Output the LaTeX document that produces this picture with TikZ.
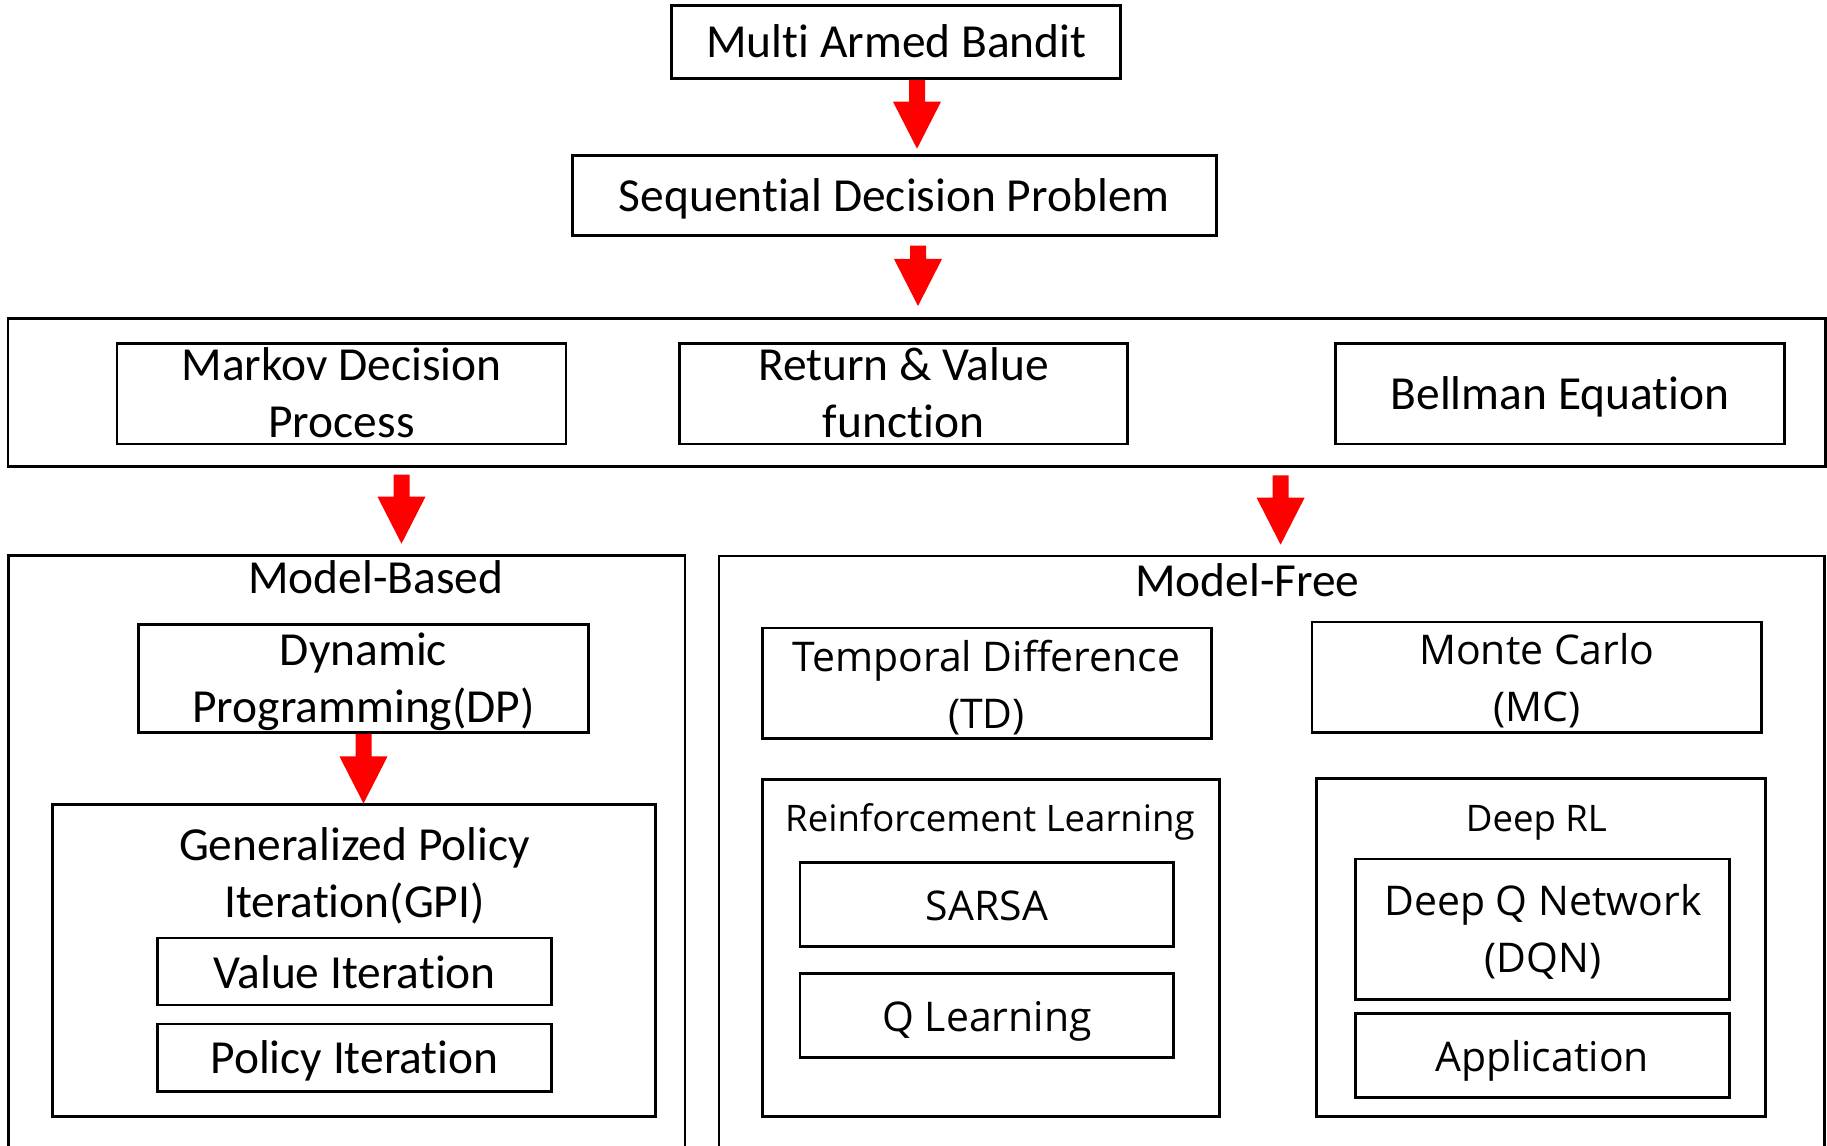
\documentclass[tikz,border=0pt]{standalone}
\usepackage{fontspec}
\usetikzlibrary{calc,fit}
\newfontfamily\calib[RawFeature=-liga,RawFeature=-clig,RawFeature=-calt,RawFeature=-dlig,RawFeature=-ccmp]{Carlito}
\newfontfamily\osans{Open Sans}
\definecolor{arrowred}{RGB}{255,0,0}
% two centred lines whose baseline is the baseline of the first line
\newcommand\twolines[2]{\begin{tabular}[t]{@{}c@{}}#1\\#2\end{tabular}}
% thick red block arrow from shaft top #1 to tip #2
\newcommand\blockarrow[2]{%
  \fill[arrowred] ($(#1)+(-8,0)$) -- ($(#1)+(8,0)$) -- ($(#2)+(8,-47)$)
    -- ($(#2)+(24,-47)$) -- (#2) -- ($(#2)+(-24,-47)$) -- ($(#2)+(-8,-47)$) -- cycle;}

\begin{document}
\begin{tikzpicture}[x=0.02cm,y=-0.02cm,
  box/.style={draw=black,line width=1.5pt,inner sep=0pt,rectangle},
  lbl/.style={inner sep=0pt,anchor=base,font=\calib\fontsize{27}{32.4}\selectfont},
  lblos/.style={inner sep=0pt,anchor=base,font=\osans\fontsize{23.3}{32.6}\selectfont},
  lblsm/.style={inner sep=0pt,anchor=base,font=\osans\fontsize{20.8}{25}\selectfont}]

\useasboundingbox (0,0) rectangle (1827,1146);
\fill[white] (0,0) rectangle (1827,1146);
\clip (0,0) rectangle (1827,1146);

% top chain
\node[box,fit={(671.6,5.7) (1120.7,78.7)}] (mab) {};
\node[box,fit={(572.5,155.7) (1216.7,235.3)}] (sdp) {};

% foundations
\node[box,fit={(8,318.3) (1825.5,466.7)}] (big) {};
\node[box,fit={(117,343.3) (566,444)}] (mdp) {};
\node[box,fit={(679.5,343.3) (1127.5,444)}] (rv) {};
\node[box,fit={(1335.5,343.3) (1784.8,444)}] (bell) {};

% model-based branch
\node[box,fit={(8.3,555.5) (685,1170)}] (mb) {};
\node[box,fit={(138.7,624.3) (588.2,732.5)}] (dp) {};
\node[box,fit={(52.8,804.8) (655.6,1116.7)}] (gpi) {};
\node[box,fit={(157.5,938.1) (551.4,1005)}] (vi) {};
\node[box,fit={(157.5,1024) (551.4,1091.6)}] (pi) {};

% model-free branch
\node[box,fit={(719.1,556) (1824.5,1170)}] (mf) {};
\node[box,fit={(762.4,628.1) (1211.7,738.7)}] (td) {};
\node[box,fit={(1312.1,622) (1761.4,732.5)}] (mc) {};
\node[box,fit={(762.4,779.7) (1219.7,1116.7)}] (rl) {};
\node[box,fit={(799.9,862.8) (1173.8,946.7)}] (sarsa) {};
\node[box,fit={(799.9,973.7) (1173.8,1057.2)}] (ql) {};
\node[box,fit={(1316.3,778.5) (1765.3,1116.7)}] (drl) {};
\node[box,fit={(1355.7,858.9) (1729.3,999.2)}] (dqn) {};
\node[box,fit={(1355.7,1013.5) (1729.3,1097.4)}] (app) {};

% labels
\node[lbl] (mabT) at (896.5,57.3) {Multi Armed Bandit};
\node[lbl] (sdpT) at (894.3,211.7) {Sequential Decision Problem};
\node[lbl] (mdpT) at (341.5,380.7) {\twolines{Markov Decision}{Process}};
\node[lbl] (rvT) at (903.5,380.7) {\twolines{Return \& Value}{function}};
\node[lbl] (bellT) at (1560,409.3) {Bellman Equation};
\node[lbl] (mbT) at (375.9,593.3) {Model-Based};
\node[lbl] (mfT) at (1247.4,596.7) {Model-Free};
\node[lbl] (dpT) at (363.5,665.6) {\twolines{Dynamic}{Programming(DP)}};
\node[lbl] (gpiT) at (354.5,860.8) {\twolines{Generalized Policy}{Iteration(GPI)}};
\node[lbl] (viT) at (354.5,988.4) {Value Iteration};
\node[lbl] (piT) at (354.5,1073.4) {Policy Iteration};
\node[lblos] (tdT) at (986.5,671.4) {\twolines{Temporal Difference}{(TD)}};
\node[lblos] (mcT) at (1536.8,664.5) {\twolines{Monte Carlo}{(MC)}};
\node[lblsm] (rlT) at (989.9,831.8) {Reinforcement Learning};
\node[lblos] (sarsaT) at (987,920.8) {SARSA};
\node[lblos] (qlT) at (987,1031.7) {Q Learning};
\node[lblsm] (drlT) at (1536.4,831.8) {Deep RL};
\node[lblos] (dqnT) at (1543,915) {\twolines{Deep Q Network}{(DQN)}};
\node[lblos] (appT) at (1542,1071.5) {Application};

% arrow columns
\coordinate (ax1) at (917,0);
\coordinate (ax2) at (918,0);
\coordinate (ax3) at (401.5,0);
\coordinate (ax4) at (1280.6,0);
\coordinate (ax5) at (363.5,0);

% arrow ends
\coordinate (a1s) at (mab.south -| ax1);
\coordinate (a1t) at ($(sdp.north -| ax1)+(0,-5.7)$);
\coordinate (a2s) at ($(sdp.south -| ax2)+(0,9)$);
\coordinate (a2t) at ($(big.north -| ax2)+(0,-11)$);
\coordinate (a3s) at ($(big.south -| ax3)+(0,6.6)$);
\coordinate (a3t) at ($(mb.north -| ax3)+(0,-10.5)$);
\coordinate (a4s) at ($(big.south -| ax4)+(0,7.3)$);
\coordinate (a4t) at ($(mf.north -| ax4)+(0,-10)$);
\coordinate (a5s) at (dp.south -| ax5);
\coordinate (a5t) at (gpi.north -| ax5);

\blockarrow{a1s}{a1t}
\blockarrow{a2s}{a2t}
\blockarrow{a3s}{a3t}
\blockarrow{a4s}{a4t}
\blockarrow{a5s}{a5t}
\end{tikzpicture}
\end{document}
